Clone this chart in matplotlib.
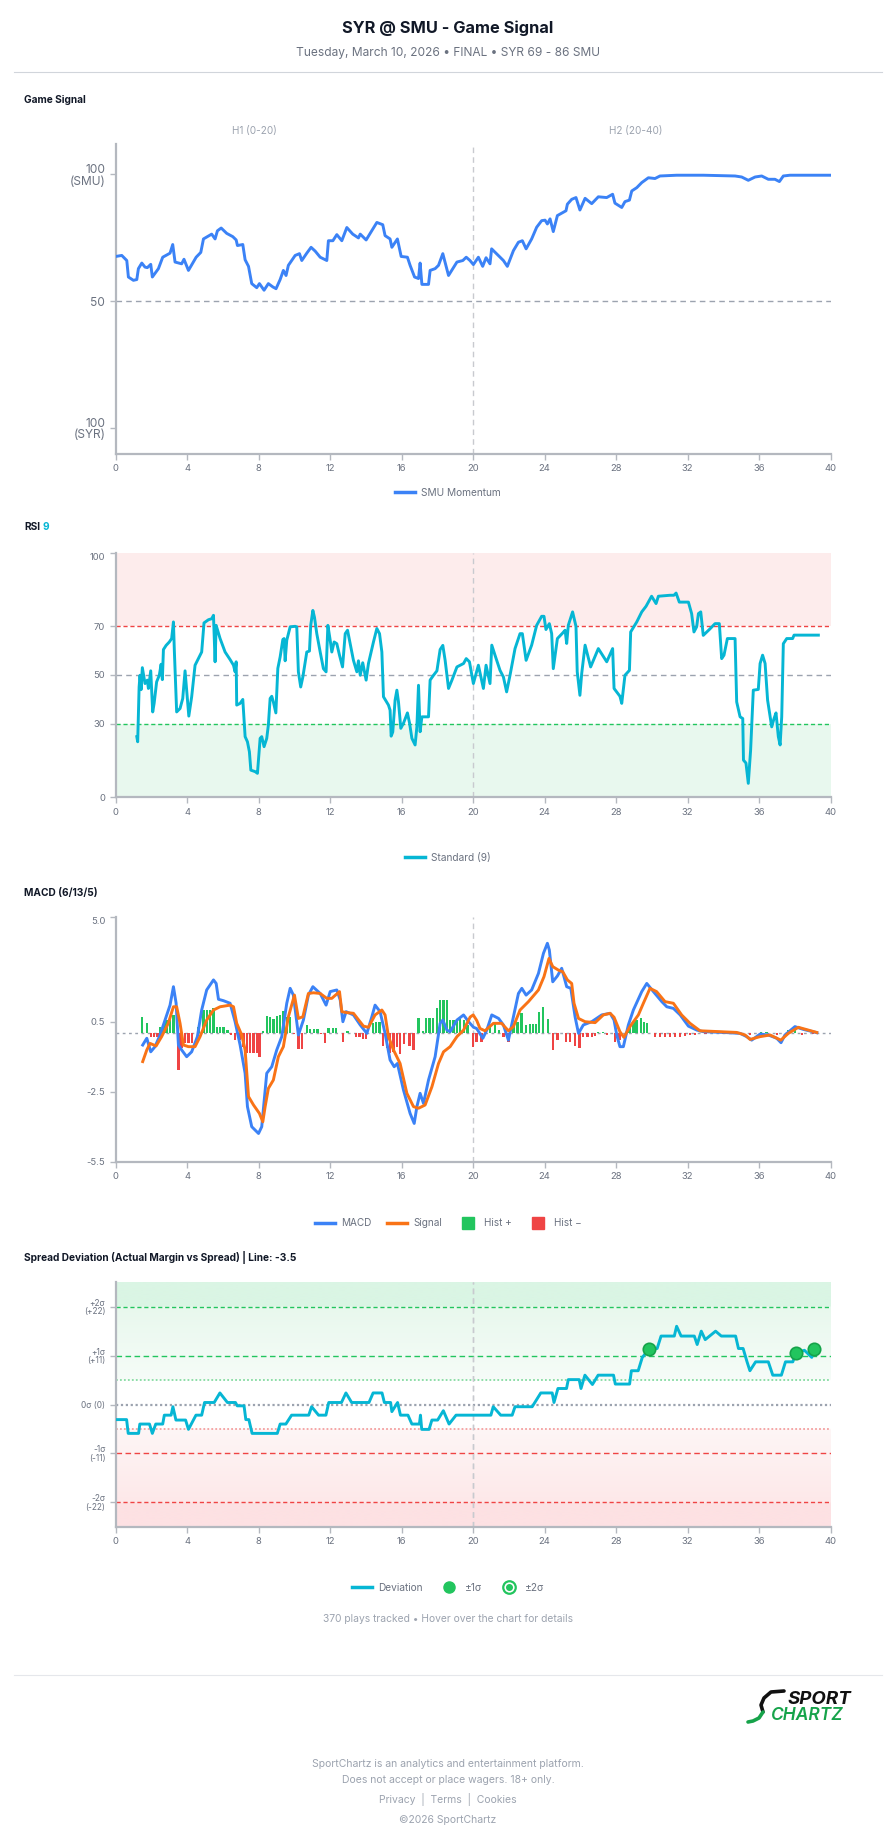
import numpy as np
import matplotlib
matplotlib.use("Agg")
import matplotlib.pyplot as plt
from matplotlib.lines import Line2D
from matplotlib.legend_handler import HandlerTuple

plt.rcParams['font.family'] = ['Inter', 'DejaVu Sans']

# ---- data ----
x_ticks = list(range(0, 41, 4))

gs_pts = [(0, 67.7), (0.34, 68.1), (0.62, 66.1), (0.71, 59.6), (0.99, 58.3), (1.18, 58.6), (1.27, 62.9),
          (1.46, 65.1), (1.64, 63.5), (1.77, 63.3), (1.96, 64.6), (2.05, 59.6), (2.39, 62.9), (2.63, 67.4),
          (3.04, 69.0), (3.19, 72.4), (3.32, 65.5), (3.69, 64.8), (3.82, 66.6), (4.07, 62.2), (4.50, 67.4),
          (4.76, 69.3), (4.91, 74.6), (5.37, 76.5), (5.56, 74.6), (5.69, 77.8), (5.90, 78.9), (6.21, 76.8),
          (6.55, 75.5), (6.74, 74.2), (6.81, 72.0), (7.11, 72.4), (7.24, 66.4), (7.43, 63.8), (7.61, 57.0),
          (7.89, 55.4), (8.04, 57.0), (8.30, 54.4), (8.54, 57.0), (8.79, 55.7), (8.97, 55.0), (9.20, 58.6),
          (9.38, 62.2), (9.53, 60.2), (9.66, 64.2), (10.04, 68.1), (10.28, 68.8), (10.41, 66.1), (10.69, 69.0),
          (10.93, 71.3), (11.16, 69.8), (11.44, 67.4), (11.81, 66.1), (11.90, 73.9), (12.15, 73.9), (12.37, 76.3),
          (12.65, 73.9), (12.93, 79.1), (13.26, 76.5), (13.58, 75.0), (13.68, 76.5), (14.01, 74.2), (14.61, 81.1),
          (14.94, 80.2), (15.07, 75.9), (15.35, 74.6), (15.45, 71.3), (15.76, 74.6), (15.97, 67.7), (16.32, 67.4),
          (16.47, 64.2), (16.72, 59.6), (16.94, 59.0), (17.03, 65.1), (17.13, 56.7), (17.50, 56.7), (17.59, 62.2),
          (17.87, 62.9), (18.06, 64.2), (18.30, 68.8), (18.62, 60.2), (19.09, 65.5), (19.42, 66.1), (19.61, 67.4),
          (19.82, 66.1), (20.01, 64.5), (20.29, 67.4), (20.53, 63.8), (20.72, 67.2), (20.94, 64.8), (21.03, 70.7),
          (21.50, 67.4), (21.69, 66.1), (21.91, 63.8), (22.25, 70.0), (22.53, 73.3), (22.75, 73.9), (22.96, 70.7),
          (23.27, 74.6), (23.55, 79.2), (23.83, 81.8), (24.02, 82.0), (24.15, 80.5), (24.30, 82.5), (24.48, 77.5),
          (24.71, 83.8), (25.04, 85.1), (25.19, 85.7), (25.27, 88.3), (25.51, 90.2), (25.75, 90.9), (25.97, 86.0),
          (26.26, 90.6), (26.63, 88.5), (27.00, 91.2), (27.47, 90.9), (27.80, 92.2), (27.93, 88.7), (28.31, 87.0),
          (28.49, 89.3), (28.74, 89.9), (28.87, 93.5), (29.15, 94.8), (29.43, 96.8), (29.80, 98.7), (30.17, 98.4),
          (30.45, 99.4), (31.38, 99.7), (32.88, 99.7), (34.65, 99.4), (35.02, 99.0), (35.39, 97.7), (35.77, 99.0),
          (36.14, 99.4), (36.51, 98.1), (36.88, 98.1), (37.13, 97.2), (37.35, 99.4), (37.72, 99.7), (40.0, 99.7)]

rsi_pts = [(1.18, 24.8), (1.23, 22.7), (1.31, 45.1), (1.36, 49.9), (1.42, 44.0), (1.49, 53.0), (1.64, 46.5),
           (1.77, 47.9), (1.83, 44.5), (1.96, 51.7), (2.07, 34.9), (2.15, 38.4), (2.29, 47.2), (2.44, 49.9),
           (2.54, 54.4), (2.61, 48.1), (2.67, 60.4), (2.82, 62.1), (3.00, 63.5), (3.13, 64.9), (3.23, 71.7),
           (3.28, 60.1), (3.41, 34.9), (3.60, 36.3), (3.75, 40.4), (3.88, 51.7), (3.97, 43.8), (4.09, 33.2),
           (4.25, 41.1), (4.44, 54.0), (4.72, 58.1), (4.81, 59.4), (4.94, 71.3), (5.19, 72.6), (5.37, 73.0),
           (5.47, 74.4), (5.56, 55.4), (5.62, 70.3), (5.84, 64.9), (6.12, 59.4), (6.40, 56.3), (6.59, 54.0),
           (6.68, 51.3), (6.74, 55.4), (6.77, 37.7), (6.96, 38.4), (7.11, 40.0), (7.24, 24.8), (7.37, 22.7),
           (7.48, 18.6), (7.56, 11.1), (7.80, 10.5), (7.93, 9.8), (8.08, 24.1), (8.17, 24.8), (8.30, 20.7),
           (8.45, 24.1), (8.54, 29.5), (8.64, 40.4), (8.73, 41.3), (8.82, 39.0), (8.96, 34.5), (9.07, 52.7),
           (9.20, 57.4), (9.35, 64.5), (9.42, 64.9), (9.48, 55.8), (9.57, 64.2), (9.76, 69.7), (10.04, 69.9),
           (10.13, 69.7), (10.22, 51.3), (10.35, 45.1), (10.47, 49.2), (10.69, 59.4), (10.84, 59.8), (10.91, 70.3),
           (11.03, 76.4), (11.12, 73.6), (11.25, 66.9), (11.44, 59.4), (11.62, 52.6), (11.77, 51.3), (11.87, 70.3),
           (12.00, 64.2), (12.09, 59.4), (12.22, 63.5), (12.37, 62.8), (12.52, 58.1), (12.69, 53.3), (12.84, 66.9),
           (12.97, 68.3), (13.12, 62.8), (13.30, 56.0), (13.49, 51.3), (13.58, 55.8), (13.68, 49.9), (13.82, 55.0),
           (14.01, 47.9), (14.14, 54.7), (14.42, 63.5), (14.61, 69.0), (14.76, 66.9), (14.89, 59.4), (14.98, 41.1),
           (15.26, 37.7), (15.35, 35.6), (15.41, 25.0), (15.50, 26.7), (15.63, 39.7), (15.73, 43.8), (15.82, 39.0),
           (15.95, 28.2), (16.10, 30.3), (16.32, 34.5), (16.44, 30.3), (16.57, 24.1), (16.75, 21.4), (16.85, 28.8),
           (16.94, 45.8), (17.03, 26.8), (17.13, 32.9), (17.50, 32.9), (17.59, 47.9), (17.78, 49.9), (17.97, 51.7),
           (18.15, 60.4), (18.30, 62.1), (18.43, 56.0), (18.62, 44.5), (18.81, 47.9), (19.09, 53.3), (19.46, 54.7),
           (19.61, 56.7), (19.79, 55.4), (20.01, 46.5), (20.29, 54.0), (20.57, 44.5), (20.72, 54.0), (20.94, 46.5),
           (21.04, 62.2), (21.22, 58.1), (21.50, 51.9), (21.69, 49.2), (21.87, 43.1), (22.06, 49.9), (22.34, 60.8),
           (22.62, 66.9), (22.75, 66.9), (22.96, 56.0), (23.27, 62.2), (23.55, 70.3), (23.83, 74.0), (23.96, 74.0),
           (24.07, 68.6), (24.26, 71.0), (24.39, 66.9), (24.48, 52.6), (24.71, 64.9), (25.01, 67.2), (25.14, 68.3),
           (25.23, 62.9), (25.32, 70.3), (25.56, 75.8), (25.75, 69.9), (25.82, 51.3), (25.97, 41.7), (26.07, 50.6),
           (26.26, 62.2), (26.57, 53.3), (27.00, 60.8), (27.47, 55.4), (27.80, 60.8), (27.88, 44.5), (28.21, 41.3),
           (28.31, 38.4), (28.49, 49.9), (28.74, 51.9), (28.81, 67.6), (29.15, 71.7), (29.43, 75.8), (29.67, 78.1),
           (29.98, 82.2), (30.23, 79.2), (30.36, 82.2), (31.01, 82.6), (31.23, 82.6), (31.35, 83.5), (31.53, 79.8),
           (32.04, 79.8), (32.22, 75.1), (32.35, 67.6), (32.50, 69.7), (32.60, 75.1), (32.73, 75.8), (32.87, 66.2),
           (33.21, 68.6), (33.53, 71.0), (33.77, 71.0), (33.90, 56.7), (34.03, 58.1), (34.22, 64.9), (34.65, 64.9),
           (34.74, 39.0), (34.93, 32.9), (35.08, 32.2), (35.12, 15.2), (35.26, 14.0), (35.39, 5.7), (35.52, 19.3),
           (35.67, 43.8), (35.95, 44.1), (36.05, 54.7), (36.19, 58.1), (36.33, 54.7), (36.47, 39.7), (36.70, 28.8),
           (36.83, 32.2), (36.94, 34.5), (37.07, 24.8), (37.17, 21.4), (37.26, 32.9), (37.35, 62.8), (37.54, 64.9),
           (37.87, 64.9), (37.95, 66.3), (39.31, 66.3)]

macd_pts = [(1.51, -0.5), (1.74, -0.21), (1.96, -0.79), (2.20, -0.57), (2.48, -0.07), (2.76, 0.57), (3.04, 1.21),
            (3.23, 2.0), (3.38, 1.29), (3.51, -0.5), (3.69, -0.71), (3.97, -1.0), (4.25, -0.79), (4.57, -0.14),
            (4.81, 1.0), (5.09, 1.86), (5.47, 2.29), (5.62, 2.14), (5.75, 1.46), (6.03, 1.4), (6.40, 1.29),
            (6.68, 0.5), (6.96, -0.5), (7.24, -1.71), (7.37, -3.14), (7.61, -4.0), (7.99, -4.29), (8.17, -4.0),
            (8.45, -1.71), (8.73, -1.43), (9.01, -0.71), (9.29, -0.14), (9.57, 1.29), (9.76, 1.93), (9.94, 1.64),
            (10.22, -0.07), (10.50, 0.57), (10.78, 1.64), (11.03, 2.0), (11.44, 1.71), (11.77, 1.21), (12.00, 1.79),
            (12.37, 1.86), (12.56, 1.43), (12.71, 0.5), (12.89, 0.93), (13.30, 0.79), (13.68, 0.36), (14.05, 0.0),
            (14.33, 0.71), (14.51, 1.21), (14.79, 0.93), (15.07, 0.0), (15.35, -1.14), (15.58, -1.43), (15.76, -1.29),
            (16.10, -2.43), (16.47, -3.43), (16.70, -3.86), (16.85, -3.14), (17.03, -2.57), (17.22, -3.0),
            (17.50, -2.0), (17.87, -1.0), (18.15, 0.43), (18.30, 0.57), (18.53, 0.14), (18.71, 0.07), (19.09, 0.57),
            (19.46, 0.79), (19.74, 0.5), (20.02, 0.26), (20.19, 0.21), (20.54, -0.21), (20.76, 0.14), (21.04, 0.79),
            (21.42, 0.64), (21.69, 0.36), (21.97, -0.29), (22.25, 0.71), (22.53, 1.71), (22.72, 1.93), (22.96, 1.64),
            (23.27, 1.86), (23.65, 2.57), (23.93, 3.43), (24.15, 3.86), (24.26, 3.57), (24.45, 2.21), (24.71, 2.46),
            (24.95, 2.79), (25.23, 2.0), (25.46, 1.93), (25.70, 0.71), (25.89, 0.0), (26.16, 0.36), (26.63, 0.5),
            (27.19, 0.79), (27.66, 0.86), (27.88, 0.57), (28.03, -0.07), (28.21, -0.57), (28.40, -0.57), (28.68, 0.36),
            (28.96, 1.0), (29.43, 1.79), (29.71, 2.14), (30.08, 1.79), (30.55, 1.36), (30.83, 1.14), (31.20, 1.07),
            (31.58, 0.79), (32.04, 0.31), (32.51, 0.14), (32.89, 0.07), (34.00, 0.04), (34.93, 0.0), (35.30, -0.14),
            (35.58, -0.29), (36.05, -0.03), (36.51, -0.07), (36.98, -0.21), (37.22, -0.4), (37.44, -0.07),
            (38.00, 0.29), (38.47, 0.17), (39.22, 0.03)]

signal_pts = [(1.51, -1.21), (1.74, -0.71), (1.92, -0.43), (2.26, -0.54), (2.57, -0.14), (2.94, 0.43), (3.23, 1.14),
              (3.41, 1.14), (3.60, 0.43), (3.79, -0.5), (4.07, -0.57), (4.44, -0.57), (4.72, -0.14), (5.09, 0.57),
              (5.47, 1.0), (5.84, 1.14), (6.40, 1.21), (6.59, 1.14), (6.77, 0.43), (7.05, -0.07), (7.24, -0.71),
              (7.43, -2.71), (7.71, -3.07), (8.04, -3.43), (8.23, -3.79), (8.36, -3.14), (8.54, -2.36), (8.82, -2.0),
              (9.10, -1.0), (9.38, -0.57), (9.66, 0.71), (10.0, 1.64), (10.22, 0.64), (10.47, 0.71), (10.78, 1.71),
              (11.06, 1.74), (11.44, 1.71), (11.81, 1.5), (12.09, 1.5), (12.52, 1.79), (12.65, 0.93), (12.93, 0.89),
              (13.30, 0.86), (13.86, 0.31), (14.14, 0.26), (14.51, 0.79), (14.89, 1.0), (15.07, 0.79), (15.26, -0.14),
              (15.54, -0.71), (15.91, -1.29), (16.29, -2.57), (16.66, -3.14), (16.94, -3.21), (17.31, -3.07),
              (17.69, -2.29), (18.06, -1.29), (18.34, -0.79), (18.71, -0.57), (19.09, -0.14), (19.46, 0.14),
              (19.83, 0.7), (20.0, 0.79), (20.2, 0.55), (20.38, 0.21), (20.66, 0.11), (21.13, 0.43), (21.59, 0.43),
              (21.97, 0.11), (22.25, 0.29), (22.62, 1.0), (23.09, 1.36), (23.65, 1.86), (23.96, 2.43), (24.24, 3.21),
              (24.45, 2.86), (24.77, 2.71), (25.01, 2.64), (25.27, 2.29), (25.51, 2.14), (25.64, 1.29), (25.89, 0.64),
              (26.26, 0.5), (26.82, 0.46), (27.28, 0.79), (27.66, 0.86), (27.88, 0.69), (28.21, 0.07), (28.43, -0.17),
              (28.77, 0.29), (29.24, 0.79), (29.52, 1.29), (29.89, 1.93), (30.26, 1.79), (30.73, 1.36), (31.20, 1.29),
              (31.66, 0.79), (32.13, 0.43), (32.69, 0.11), (34.74, 0.04), (35.21, -0.07), (35.49, -0.26),
              (36.05, -0.14), (36.61, -0.07), (37.21, -0.29), (37.63, 0.0), (38.19, 0.26), (39.22, 0.04)]

hist_pts = [(1.46, 0.71), (1.74, 0.46), (1.96, -0.14), (2.15, -0.14), (2.33, -0.14), (2.48, 0.26), (2.67, 0.36),
            (2.85, 0.57), (3.04, 0.71), (3.23, 0.79), (3.51, -1.57), (3.69, -0.64), (3.88, -0.43), (4.07, -0.43),
            (4.25, -0.43), (4.44, 0.03), (4.63, 0.29), (4.91, 1.0), (5.09, 1.0), (5.28, 1.0), (5.47, 1.07),
            (5.65, 0.26), (5.84, 0.26), (6.03, 0.26), (6.25, 0.14), (6.44, -0.07), (6.68, -0.29), (6.92, -0.29),
            (7.15, -0.57), (7.33, -0.83), (7.52, -0.83), (7.71, -0.83), (7.89, -0.83), (8.04, -1.0), (8.23, 0.11),
            (8.45, 0.74), (8.64, 0.69), (8.82, 0.6), (9.01, 0.74), (9.20, 0.79), (9.38, 0.97), (9.57, 0.71),
            (9.76, 0.71), (9.98, -0.04), (10.22, -0.69), (10.41, -0.69), (10.69, 0.36), (10.88, 0.17), (11.10, 0.17),
            (11.29, 0.17), (11.47, -0.04), (11.72, -0.4), (11.90, 0.24), (12.15, 0.24), (12.33, 0.24), (12.71, -0.36),
            (12.97, 0.11), (13.45, -0.14), (13.64, -0.17), (13.82, -0.26), (14.01, -0.26), (14.38, 0.43), (14.57, 0.5),
            (14.76, 0.5), (14.94, -0.54), (15.17, -0.64), (15.35, -0.86), (15.54, -0.79), (15.73, -0.57),
            (15.91, -0.89), (16.14, -0.46), (16.44, -0.54), (16.66, -0.71), (16.94, 0.64), (17.18, 0.11), (17.37, 0.64),
            (17.56, 0.64), (17.74, 0.64), (17.97, 1.07), (18.15, 1.43), (18.34, 1.43), (18.53, 1.43), (18.71, 0.57),
            (18.90, 0.57), (19.09, 0.57), (19.27, 0.6), (19.50, 0.57), (19.68, 0.36), (19.98, -0.57), (20.19, -0.36),
            (20.47, -0.36), (20.94, 0.31), (21.22, 0.43), (21.46, 0.14), (21.69, -0.17), (21.97, -0.36), (22.25, 0.36),
            (22.47, 0.5), (22.71, 0.86), (22.95, 0.36), (23.18, 0.4), (23.36, 0.4), (23.51, 0.4), (23.70, 0.93),
            (23.92, 1.11), (24.20, 0.6), (24.48, -0.71), (24.71, -0.29), (25.19, -0.36), (25.42, -0.36),
            (25.70, -0.54), (25.94, -0.64), (26.16, -0.14), (26.39, -0.14), (26.63, -0.14), (26.82, -0.11),
            (27.00, 0.04), (27.25, 0.04), (27.47, -0.07), (27.93, -0.36), (28.18, -0.29), (28.74, 0.26), (28.96, 0.5),
            (29.14, 0.57), (29.37, 0.64), (29.56, 0.5), (29.74, 0.43), (30.17, -0.17), (30.45, -0.17), (30.73, -0.17),
            (31.01, -0.17), (31.29, -0.17), (31.57, -0.14), (31.85, -0.11), (32.13, -0.09), (32.41, -0.06),
            (33.0, -0.03), (34.0, -0.02), (35.0, -0.04), (35.5, -0.07), (36.1, 0.07), (36.4, 0.05), (37.0, -0.05),
            (37.6, 0.15), (38.0, 0.15), (38.4, -0.05), (39.0, -0.03)]

dev_pts = [(0, -3.4), (0.61, -3.4), (0.7, -6.5), (1.28, -6.5), (1.35, -4.4), (1.89, -4.4), (2.05, -6.5), (2.24, -4.4),
           (2.63, -4.4), (2.72, -2.4), (3.1, -2.4), (3.2, -0.5), (3.37, -3.5), (3.91, -3.5), (4.07, -5.6),
           (4.49, -2.4), (4.81, -2.4), (4.97, 0.45), (5.51, 0.45), (5.83, 2.6), (6.25, 0.45), (6.7, 0.45),
           (6.8, -0.3), (7.18, -0.3), (7.28, -3.4), (7.45, -3.4), (7.63, -6.5), (9.04, -6.5), (9.2, -4.4),
           (9.52, -4.4), (9.84, -2.4), (10.8, -2.4), (10.96, -0.5), (11.35, -2.4), (11.76, -2.4), (11.92, 0.45),
           (12.63, 0.45), (12.88, 2.6), (13.2, 0.45), (14.17, 0.45), (14.4, 2.6), (14.9, 2.6), (15.03, 0.45),
           (15.38, 0.45), (15.45, -1.6), (15.77, 0.45), (15.93, -2.4), (16.35, -2.4), (16.57, -4.4), (16.99, -4.4),
           (17.05, -2.4), (17.12, -5.6), (17.53, -5.6), (17.69, -3.5), (18.01, -3.5), (18.33, -1.4), (18.65, -4.4),
           (19.04, -2.4), (20.99, -2.4), (21.12, -0.5), (21.54, -2.4), (22.18, -2.4), (22.34, -0.5), (23.3, -0.5),
           (23.78, 2.6), (24.42, 2.6), (24.52, 0.45), (24.74, 3.6), (25.22, 3.6), (25.32, 5.6), (25.93, 5.6),
           (26.03, 3.6), (26.25, 6.6), (26.67, 4.5), (26.99, 6.6), (27.85, 6.6), (27.95, 4.6), (28.75, 4.6),
           (28.85, 7.6), (29.23, 7.6), (29.46, 10.6), (29.87, 12.6), (30.29, 12.6), (30.51, 15.4), (31.25, 15.4),
           (31.38, 17.6), (31.63, 15.4), (32.37, 15.4), (32.53, 13.5), (32.76, 16.5), (32.98, 14.6), (33.56, 16.5),
           (33.88, 15.4), (34.68, 15.4), (34.84, 12.6), (35.1, 12.6), (35.32, 9.6), (35.48, 7.6), (35.8, 9.6),
           (36.51, 9.6), (36.76, 6.6), (37.24, 6.6), (37.47, 9.6), (37.88, 9.6), (38.04, 11.5), (38.53, 12.2),
           (38.94, 10.6), (39.07, 12.6)]

sigma1_pts = [(29.81, 12.6), (38.04, 11.5), (39.04, 12.6)]

gs_min, gs_val = map(np.array, zip(*gs_pts))
rsi_min, rsi_val = map(np.array, zip(*rsi_pts))
macd_min, macd_val = map(np.array, zip(*macd_pts))
sig_min, sig_val = map(np.array, zip(*signal_pts))
hist_min, hist_val = map(np.array, zip(*hist_pts))
dev_min, dev_val = map(np.array, zip(*dev_pts))
s1_min, s1_val = map(np.array, zip(*sigma1_pts))

# ---- colors ----
BLUE = '#3b82f6'
ORANGE = '#f97316'
CYAN = '#06b6d4'
GREEN = '#22c55e'
RED = '#ef4444'
GRAY_TXT = '#6b7280'
SPINE = '#b4b8bf'

W, H = 896, 1845
fig = plt.figure(figsize=(W / 100, H / 100), dpi=100)
fig.patch.set_facecolor('white')
L, R = 115.7, 830.7


def px_axes(top, bottom):
    return fig.add_axes([L / W, 1 - bottom / H, (R - L) / W, (bottom - top) / H])


def base_style(ax):
    for s in ['top', 'right']:
        ax.spines[s].set_visible(False)
    for s in ['left', 'bottom']:
        ax.spines[s].set_color(SPINE)
        ax.spines[s].set_linewidth(1.6)
    ax.tick_params(colors=SPINE, labelcolor=GRAY_TXT, labelsize=6.8, length=4, width=1)
    ax.set_xlim(0, 40)
    ax.set_xticks(x_ticks)
    ax.axvline(20, color='#c8cacf', ls=(0, (4, 3)), lw=1.0, zorder=1)


def ftext(x, y, s, **kw):
    fig.text(x / W, 1 - y / H, s, **kw)


# ---- header ----
ftext(448, 28, 'SYR @ SMU - Game Signal', ha='center', va='center', fontsize=11.8, fontweight='bold', color='#111827')
ftext(448, 53, 'Tuesday, March 10, 2026 \u2022 FINAL \u2022 SYR 69 - 86 SMU', ha='center', va='center',
      fontsize=8.6, color=GRAY_TXT)
fig.add_artist(Line2D([14 / W, 882 / W], [1 - 72 / H, 1 - 72 / H], color='#d1d5db', lw=0.8))

# ---- Game Signal ----
ftext(24, 100, 'Game Signal', ha='left', va='center', fontsize=7.3, fontweight='bold', color='#111827')
ftext(254, 131, 'H1 (0-20)', ha='center', va='center', fontsize=7.2, color='#9ca3af')
ftext(636, 131, 'H2 (20-40)', ha='center', va='center', fontsize=7.2, color='#9ca3af')
ax1 = px_axes(144, 453.7)
base_style(ax1)
ax1.axhline(50, color='#9ca3af', ls=(0, (4, 3)), lw=1.0, zorder=1)
ax1.plot(gs_min, gs_val, color=BLUE, lw=2.1, zorder=3, solid_joinstyle='round')
ax1.set_ylim(-10, 112)
ax1.set_yticks([0, 50, 100])
ax1.set_yticklabels(['100\n(SYR)', '50', '100\n(SMU)'], fontsize=8.6, linespacing=0.95)
fig.legend(handles=[Line2D([], [], color=BLUE, lw=2.5, label='SMU Momentum')], loc='center',
           bbox_to_anchor=(0.5, 1 - 493 / H), frameon=False, fontsize=7.3, labelcolor=GRAY_TXT,
           handlelength=2.0, handletextpad=0.6)

# ---- RSI ----
ftext(24, 527, 'RSI', ha='left', va='center', fontsize=7.3, fontweight='bold', color='#111827')
ftext(42.5, 527, '9', ha='left', va='center', fontsize=7.3, fontweight='bold', color=CYAN)
ax2 = px_axes(552.7, 797.3)
base_style(ax2)
ax2.axhspan(70, 100, color='#fdecec', zorder=0, lw=0)
ax2.axhspan(0, 30, color='#e8f8ee', zorder=0, lw=0)
ax2.axhline(70, color=RED, ls=(0, (3, 2)), lw=1.0, zorder=1)
ax2.axhline(50, color='#9ca3af', ls=(0, (4, 3)), lw=1.0, zorder=1)
ax2.axhline(30, color=GREEN, ls=(0, (3, 2)), lw=1.0, zorder=1)
ax2.plot(rsi_min, rsi_val, color=CYAN, lw=2.1, zorder=3, solid_joinstyle='round')
ax2.set_ylim(0, 100)
ax2.set_yticks([0, 30, 50, 70, 100])
ax2.get_yticklabels()[-1].set_va('top')
fig.legend(handles=[Line2D([], [], color=CYAN, lw=2.5, label='Standard (9)')], loc='center',
           bbox_to_anchor=(0.5, 1 - 858 / H), frameon=False, fontsize=7.3, labelcolor=GRAY_TXT,
           handlelength=2.0, handletextpad=0.6)

# ---- MACD ----
ftext(24, 893, 'MACD (6/13/5)', ha='left', va='center', fontsize=7.3, fontweight='bold', color='#111827')
ax3 = px_axes(916.7, 1161.7)
base_style(ax3)
ax3.axhline(0, color='#9ca3af', ls=(0, (2, 2.5)), lw=1.0, zorder=1)
bar_cols = [GREEN if v >= 0 else RED for v in hist_val]
ax3.bar(hist_min, hist_val, width=0.13, color=bar_cols, zorder=2, lw=0)
ax3.plot(macd_min, macd_val, color=BLUE, lw=2.1, zorder=3, solid_joinstyle='round')
ax3.plot(sig_min, sig_val, color=ORANGE, lw=2.1, zorder=4, solid_joinstyle='round')
ax3.set_ylim(-5.5, 5.0)
ax3.set_yticks([-5.5, -2.5, 0.5, 5.0])
ax3.set_yticklabels(['-5.5', '-2.5', '0.5', '5.0'])
ax3.get_yticklabels()[-1].set_va('top')
macd_handles = [Line2D([], [], color=BLUE, lw=2.5, label='MACD'),
                Line2D([], [], color=ORANGE, lw=2.5, label='Signal'),
                Line2D([], [], color=GREEN, marker='s', ls='', markersize=8, label='Hist +'),
                Line2D([], [], color=RED, marker='s', ls='', markersize=8, label='Hist \u2212')]
fig.legend(handles=macd_handles, loc='center', ncol=4, bbox_to_anchor=(0.5, 1 - 1223 / H), frameon=False,
           fontsize=7.2, labelcolor=GRAY_TXT, handlelength=2.0, handletextpad=0.6, columnspacing=1.6)

# ---- Spread Deviation ----
ftext(24, 1258, 'Spread Deviation (Actual Margin vs Spread) | Line: -3.5', ha='left', va='center',
      fontsize=7.3, fontweight='bold', color='#111827')
ax4 = px_axes(1282.3, 1526.7)
base_style(ax4)
ax4.set_ylim(-27.5, 27.5)
# background bands (gradient)
yy = np.linspace(27.5, -27.5, 400)
stops = [27.5, 22.01, 22.0, 5.5, 5.49, -5.49, -5.5, -22.0, -22.01, -27.5]
rr = [218, 218, 232, 246, 255, 255, 254, 253, 253, 253]
gg = [245, 245, 248, 252, 255, 255, 246, 232, 225, 225]
bb = [228, 228, 237, 248, 255, 255, 246, 233, 227, 227]
rgb = np.stack([np.interp(-yy, [-s for s in stops], c) for c in (rr, gg, bb)], axis=1) / 255.0
ax4.imshow(rgb[:, None, :], extent=[0, 40, -27.5, 27.5], aspect='auto', zorder=0, interpolation='bilinear')
ax4.axhline(22, color=GREEN, ls=(0, (3, 2)), lw=1.0, zorder=1)
ax4.axhline(11, color=GREEN, ls=(0, (4, 2.5)), lw=1.0, zorder=1)
ax4.axhline(5.5, color='#86dba2', ls=(0, (1, 1.2)), lw=1.3, zorder=1)
ax4.axhline(0, color='#9ca3af', ls=(0, (1, 1.2)), lw=1.6, zorder=1)
ax4.axhline(-5.5, color='#f3a0a0', ls=(0, (1, 1.2)), lw=1.3, zorder=1)
ax4.axhline(-11, color=RED, ls=(0, (4, 2.5)), lw=1.0, zorder=1)
ax4.axhline(-22, color=RED, ls=(0, (3, 2)), lw=1.0, zorder=1)
ax4.axvline(20, color='#c8cacf', ls=(0, (4, 3)), lw=1.0, zorder=1)
ax4.plot(dev_min, dev_val, color=CYAN, lw=2.1, zorder=3, solid_joinstyle='round')
ax4.scatter(s1_min, s1_val, s=80, facecolor=GREEN, edgecolor='#16a34a', lw=1.2, zorder=5)
ax4.set_xlim(0, 40)
ax4.set_yticks([-22, -11, 0, 11, 22])
ax4.set_yticklabels(['-2\u03c3\n(-22)', '-1\u03c3\n(-11)', '0\u03c3 (0)', '+1\u03c3\n(+11)', '+2\u03c3\n(+22)'],
                    fontsize=6.0, linespacing=0.95)
ring = Line2D([], [], marker='o', ls='', markersize=9, markerfacecolor='white', markeredgecolor=GREEN,
              markeredgewidth=1.6)
dot = Line2D([], [], marker='o', ls='', markersize=4, color=GREEN)
dev_handles = [Line2D([], [], color=CYAN, lw=2.5),
               Line2D([], [], marker='o', ls='', markersize=8, color=GREEN),
               (ring, dot)]
fig.legend(handles=dev_handles, labels=['Deviation', '\u00b11\u03c3', '\u00b12\u03c3'], loc='center', ncol=3,
           bbox_to_anchor=(0.5, 1 - 1588 / H), frameon=False, fontsize=7.3, labelcolor=GRAY_TXT,
           handlelength=2.0, handletextpad=0.6, columnspacing=1.6,
           handler_map={tuple: HandlerTuple(ndivide=1, pad=0)})
ftext(448, 1619, '370 plays tracked \u2022 Hover over the chart for details', ha='center', va='center',
      fontsize=7.4, color='#9ca3af')

# ---- footer ----
fig.add_artist(Line2D([14 / W, 882 / W], [1 - 1675 / H, 1 - 1675 / H], color='#e5e7eb', lw=0.8))
ftext(788, 1699, 'SPORT', ha='left', va='center', fontsize=13.5, fontweight='bold', fontstyle='italic',
      color='#111111')
ftext(771, 1716, 'CHARTZ', ha='left', va='center', fontsize=12.5, fontweight='semibold', fontstyle='italic',
      color='#16a34a')
fig.add_artist(Line2D([784 / W, 771 / W, 764 / W, 761 / W, 763 / W],
                      [1 - 1691 / H, 1 - 1692 / H, 1 - 1698 / H, 1 - 1705 / H, 1 - 1712 / H],
                      color='#111111', lw=2.6, solid_capstyle='round'))
fig.add_artist(Line2D([763 / W, 759 / W, 753 / W, 748 / W],
                      [1 - 1712 / H, 1 - 1718 / H, 1 - 1721 / H, 1 - 1722 / H],
                      color='#16a34a', lw=2.6, solid_capstyle='round'))
ftext(448, 1764, 'SportChartz is an analytics and entertainment platform.', ha='center', va='center',
      fontsize=7.5, color='#9ca3af')
ftext(448, 1780, 'Does not accept or place wagers. 18+ only.', ha='center', va='center', fontsize=7.5,
      color='#9ca3af')
ftext(448, 1800, 'Privacy  |  Terms  |  Cookies', ha='center', va='center', fontsize=7.5, color='#9ca3af')
ftext(448, 1820, '\u00a92026 SportChartz', ha='center', va='center', fontsize=7.5, color='#9ca3af')

fig.savefig('out.png', dpi=100, facecolor='white')
